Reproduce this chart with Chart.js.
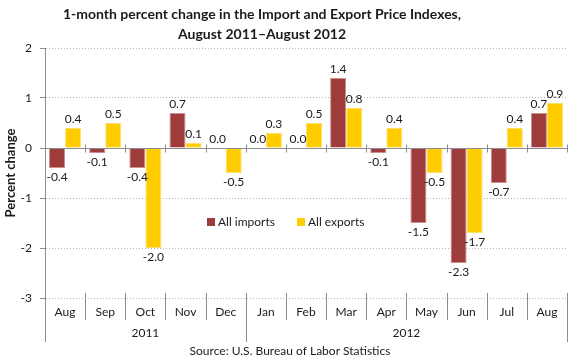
<!DOCTYPE html>
<html>
<head>
<meta charset="utf-8">
<script src="https://cdn.jsdelivr.net/npm/chart.js@4"></script>
<style>
  html, body { margin: 0; padding: 0; background: #fff; }
  #wrap { width: 580px; height: 360px; position: relative; }
</style>
</head>
<body>
<div id="wrap"><canvas id="priceChart" width="580" height="360"></canvas></div>
<script>
// chart data
const months = ['Aug', 'Sep', 'Oct', 'Nov', 'Dec', 'Jan', 'Feb', 'Mar', 'Apr', 'May', 'Jun', 'Jul', 'Aug'];
const yearLabels = ['2011', '2012'];
const yearSpans = [5, 8]; // number of months under each year
const imports = [-0.4, -0.1, -0.4, 0.7, 0.0, 0.0, 0.0, 1.4, -0.1, -1.5, -2.3, -0.7, 0.7];
const exportsData = [0.4, 0.5, -2.0, 0.1, -0.5, 0.3, 0.5, 0.8, 0.4, -0.5, -1.7, 0.4, 0.9];
const yMin = -3;
const yMax = 2;

const FONT = 'Lato, "Open Sans", sans-serif';
const AXIS_GRAY = '#8c8c8c';
const TEXT = '#1a1a1a';

// value labels on top / below each bar
const valueLabels = {
  id: 'valueLabels',
  afterDatasetsDraw(chart) {
    const ctx = chart.ctx;
    ctx.save();
    ctx.font = '12px ' + FONT;
    ctx.fillStyle = TEXT;
    ctx.textAlign = 'center';
    chart.data.datasets.forEach((ds, di) => {
      const meta = chart.getDatasetMeta(di);
      meta.data.forEach((bar, i) => {
        const v = ds.data[i];
        const txt = v.toFixed(1);
        if (v >= 0) {
          ctx.textBaseline = 'bottom';
          ctx.fillText(txt, bar.x, bar.y - 3);
        } else {
          ctx.textBaseline = 'top';
          ctx.fillText(txt, bar.x, bar.y + 3);
        }
      });
    });
    ctx.restore();
  }
};

// zero line, two-level category axis, legend, title and source
const decorations = {
  id: 'decorations',
  afterDraw(chart) {
    const ctx = chart.ctx;
    const area = chart.chartArea;
    const x = chart.scales.x;
    const y = chart.scales.y;
    const step = x.getPixelForValue(1) - x.getPixelForValue(0);
    const edge = i => x.getPixelForValue(i) - step / 2;
    const zeroY = Math.round(y.getPixelForValue(0)) + 0.5;

    ctx.save();
    ctx.strokeStyle = AXIS_GRAY;
    ctx.lineWidth = 1;

    // zero axis with tick marks at category edges
    ctx.beginPath();
    ctx.moveTo(area.left, zeroY);
    ctx.lineTo(area.right, zeroY);
    for (let i = 1; i <= months.length; i++) {
      const px = Math.round(edge(i)) + 0.5;
      ctx.moveTo(px, zeroY - 4);
      ctx.lineTo(px, zeroY + 4);
    }
    ctx.stroke();

    // month separators and year separators under the plot
    const top = area.bottom - 5;
    const monthBottom = area.bottom + 22;
    const yearBottom = area.bottom + 44;
    const yearEdges = [0];
    yearSpans.forEach(n => yearEdges.push(yearEdges[yearEdges.length - 1] + n));
    ctx.beginPath();
    for (let i = 1; i <= months.length; i++) {
      const px = Math.round(edge(i)) + 0.5;
      const long = yearEdges.includes(i);
      ctx.moveTo(px, top);
      ctx.lineTo(px, long ? yearBottom : monthBottom);
    }
    // y axis continues down past the labels
    const lx = Math.round(area.left) + 0.5;
    ctx.moveTo(lx, area.bottom);
    ctx.lineTo(lx, yearBottom);
    ctx.stroke();

    ctx.fillStyle = TEXT;
    ctx.font = '12px ' + FONT;
    ctx.textAlign = 'center';
    ctx.textBaseline = 'middle';
    months.forEach((m, i) => {
      ctx.fillText(m, x.getPixelForValue(i), area.bottom + 14);
    });
    yearLabels.forEach((lab, k) => {
      const cx = (edge(yearEdges[k]) + edge(yearEdges[k + 1])) / 2;
      ctx.fillText(lab, cx, area.bottom + 35);
    });

    // source line
    ctx.fillText('Source: U.S. Bureau of Labor Statistics', 290, 351);

    // title
    ctx.font = 'bold 14px ' + FONT;
    ctx.fillText('1-month percent change in the Import and Export Price Indexes,', 262, 14);
    ctx.fillText('August 2011\u2013August 2012', 262, 34);

    // legend inside the plot
    ctx.font = '12px ' + FONT;
    ctx.textAlign = 'left';
    let lxPos = 207;
    const ly = 222;
    chart.data.datasets.forEach(ds => {
      ctx.fillStyle = ds.backgroundColor;
      ctx.fillRect(lxPos, ly - 4, 8, 8);
      ctx.fillStyle = TEXT;
      ctx.fillText(ds.label, lxPos + 11, ly);
      lxPos += 90;
    });
    ctx.restore();
  }
};

new Chart(document.getElementById('priceChart'), {
  type: 'bar',
  data: {
    labels: months,
    datasets: [
      {
        label: 'All imports',
        data: imports,
        backgroundColor: '#9e3b3b',
        borderColor: '#cf8d8d',
        borderWidth: 1,
        categoryPercentage: 0.8,
        barPercentage: 1.0
      },
      {
        label: 'All exports',
        data: exportsData,
        backgroundColor: '#ffcc00',
        borderColor: '#ffe066',
        borderWidth: 1,
        categoryPercentage: 0.8,
        barPercentage: 1.0
      }
    ]
  },
  options: {
    responsive: false,
    animation: false,
    layout: { padding: { left: 0, top: 48, right: 13, bottom: 62 } },
    plugins: {
      legend: { display: false },
      title: { display: false },
      tooltip: { enabled: false }
    },
    scales: {
      x: { display: false },
      y: {
        min: yMin,
        max: yMax,
        afterFit(scale) { scale.width = 45; },
        ticks: {
          stepSize: 1,
          padding: 8,
          color: TEXT,
          font: { family: FONT, size: 12 }
        },
        grid: {
          color: ctx => ctx.tick && ctx.tick.value === 0 ? 'rgba(0,0,0,0)' : '#b5b5b5',
          tickColor: AXIS_GRAY,
          tickLength: 5
        },
        border: { display: true, color: AXIS_GRAY, dash: [1, 2] },
        title: {
          display: true,
          text: 'Percent change',
          color: TEXT,
          font: { family: FONT, size: 13, weight: 'bold' },
          padding: { top: 3, bottom: 0 }
        }
      }
    }
  },
  plugins: [valueLabels, decorations]
});
</script>
</body>
</html>
